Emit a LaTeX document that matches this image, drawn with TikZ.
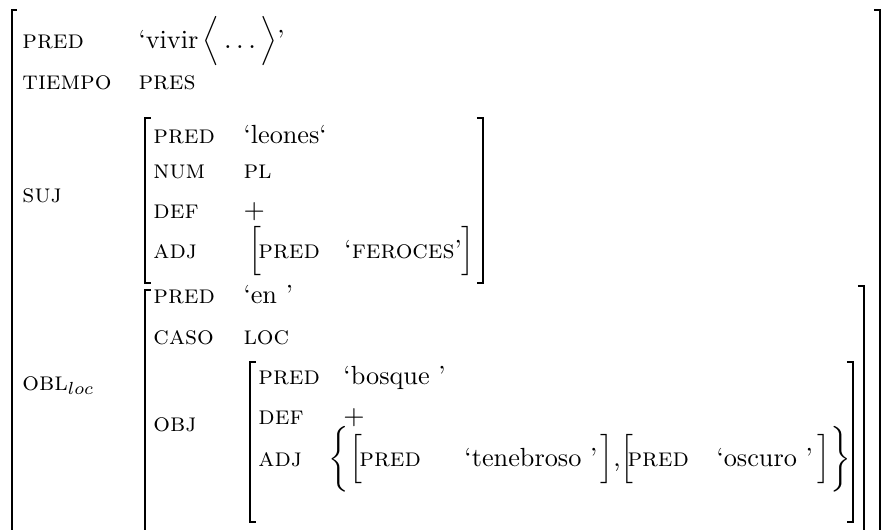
\documentclass[tikz,border=0pt]{standalone}
\usepackage{amsmath}
\begin{document}
\begin{tikzpicture}[x=0.4pt,y=-0.4pt,
  lbl/.style={anchor=base west, inner sep=0pt, font=\fontsize{10.5}{12.5}\selectfont},
  br/.style={line width=0.75pt}]
\useasboundingbox (0,0) rectangle (883,529);
\clip (0,0) rectangle (883,529);
% outer
\draw[br] (17,10) -- (12,10) -- (12,560);
\draw[br] (874,10) -- (880,10) -- (880,560);
\node[lbl] (k1) at (22,48) {\textsc{pred}};
\node[lbl] (v1) at (138,48) {`vivir\,$\Big\langle\ldots\Big\rangle$'};
\node[lbl] (k2) at (22,89) {\textsc{tiempo}};
\node[lbl] (v2) at (138,89) {\textsc{pres}};
\node[lbl] (k3) at (22,202) {\textsc{suj}};
\node[lbl] (k4) at (22,390) {\textsc{obl}$_{loc}$};
% SUJ
\draw[br] (151,118) -- (145,118) -- (145,283) -- (151,283);
\draw[br] (477,118) -- (483,118) -- (483,283) -- (477,283);
\node[lbl] (s1) at (153,143) {\textsc{pred}};
\node[lbl] (sv1) at (243,143) {`leones`};
\node[lbl] (s2) at (153,178) {\textsc{num}};
\node[lbl] (sv2) at (243,178) {\textsc{pl}};
\node[lbl] (s3) at (153,218) {\textsc{def}};
\node[lbl] (sv3) at (243,218) {$+$};
\node[lbl] (s4) at (153,258) {\textsc{adj}};
\node[lbl] (sa0) at (248,258) {$\Big[$};
\node[lbl] (sa1) at (258,258) {\textsc{pred}};
\node[lbl] (sa2) at (344,258) {`\textsc{feroces}'$\Big]$};
% OBL
\draw[br] (151,290) -- (145,290) -- (145,560);
\draw[br] (858,286) -- (864,286) -- (864,560);
\node[lbl] (o1) at (153,303) {\textsc{pred}};
\node[lbl] (ov1) at (243,303) {`en '};
\node[lbl] (o2) at (153,344) {\textsc{caso}};
\node[lbl] (ov2) at (243,344) {\textsc{loc}};
\node[lbl] (o3) at (153,431) {\textsc{obj}};
% OBJ
\draw[br] (256,362) -- (250,362) -- (250,522) -- (256,522);
\draw[br] (847,362) -- (853,362) -- (853,522) -- (847,522);
\node[lbl] (b1) at (258,384) {\textsc{pred}};
\node[lbl] (bv1) at (343,384) {`bosque '};
\node[lbl] (b2) at (258,424) {\textsc{def}};
\node[lbl] (bv2) at (343,424) {$+$};
\node[lbl] (b3) at (258,466) {\textsc{adj}};
\node[lbl] (ba) at (328,466) {$\bigg\{\Big[$};
\node[lbl] (ba1) at (359,466) {\textsc{pred}};
\node[lbl] (ba2) at (464,466) {`tenebroso '};
\node[lbl] (ba3) at (600,466) {$\Big]$,$\Big[$};
\node[lbl] (ba4) at (627,466) {\textsc{pred}};
\node[lbl] (ba5) at (716,466) {`oscuro '};
\node[lbl] (ba6) at (817,466) {$\Big]\bigg\}$};
\end{tikzpicture}
\end{document}
